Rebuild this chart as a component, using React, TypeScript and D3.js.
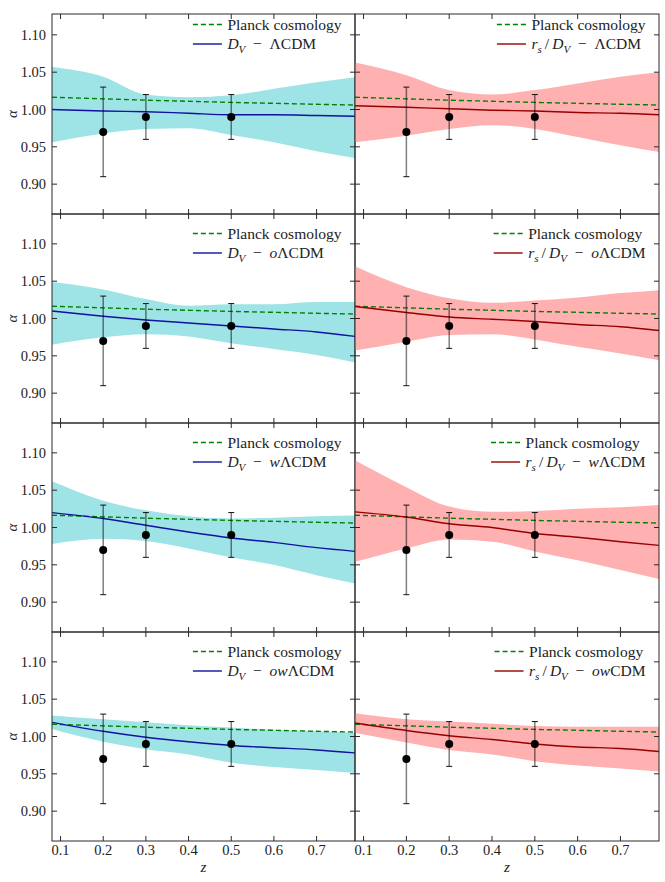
import React, { useEffect, useRef } from 'react';
import * as d3 from 'd3';

// ---------- data ----------
const zGrid = [0.08, 0.2, 0.3, 0.4, 0.5, 0.6, 0.7, 0.79];
const planck = [1.0165, 1.0143, 1.0125, 1.011, 1.0095, 1.0083, 1.007, 1.006];

const dataZ = [0.2, 0.3, 0.5];
const dataAlpha = [0.97, 0.99, 0.99];
const dataErr = [0.06, 0.03, 0.03];

const xTicks = [0.1, 0.2, 0.3, 0.4, 0.5, 0.6, 0.7];
const yTicks = [0.9, 0.95, 1.0, 1.05, 1.1];

// row 1
const dvLcdmMid = [1.0, 0.998, 0.997, 0.995, 0.993, 0.993, 0.992, 0.991];
const dvLcdmHi = [1.057, 1.044, 1.02, 1.0165, 1.019, 1.0277, 1.0366, 1.0433];
const dvLcdmLo = [0.956, 0.968, 0.974, 0.975, 0.966, 0.956, 0.944, 0.935];
const rsLcdmMid = [1.005, 1.003, 1.001, 0.999, 0.998, 0.996, 0.995, 0.993];
const rsLcdmHi = [1.063, 1.046, 1.026, 1.02, 1.026, 1.035, 1.044, 1.05];
const rsLcdmLo = [0.956, 0.965, 0.974, 0.979, 0.974, 0.963, 0.952, 0.943];
// row 2
const dvOLcdmMid = [1.01, 1.003, 0.998, 0.994, 0.99, 0.986, 0.982, 0.976];
const dvOLcdmHi = [1.049, 1.039, 1.026, 1.017, 1.019, 1.019, 1.022, 1.022];
const dvOLcdmLo = [0.965, 0.975, 0.979, 0.976, 0.967, 0.959, 0.951, 0.941];
const rsOLcdmMid = [1.016, 1.008, 1.002, 0.999, 0.996, 0.992, 0.989, 0.984];
const rsOLcdmHi = [1.07, 1.042, 1.027, 1.021, 1.024, 1.028, 1.034, 1.038];
const rsOLcdmLo = [0.957, 0.969, 0.978, 0.979, 0.972, 0.962, 0.953, 0.944];
// row 3
const dvWLcdmMid = [1.02, 1.012, 1.003, 0.994, 0.986, 0.98, 0.973, 0.968];
const dvWLcdmHi = [1.062, 1.036, 1.023, 1.015, 1.012, 1.013, 1.015, 1.016];
const dvWLcdmLo = [0.978, 0.985, 0.982, 0.972, 0.96, 0.95, 0.936, 0.925];
const rsWLcdmMid = [1.021, 1.014, 1.005, 1.0, 0.992, 0.987, 0.981, 0.976];
const rsWLcdmHi = [1.09, 1.054, 1.028, 1.021, 1.022, 1.025, 1.027, 1.03];
const rsWLcdmLo = [0.954, 0.972, 0.984, 0.981, 0.968, 0.956, 0.943, 0.931];
// row 4
const dvOwLcdmMid = [1.019, 1.007, 0.999, 0.993, 0.988, 0.985, 0.982, 0.978];
const dvOwLcdmHi = [1.028, 1.023, 1.019, 1.015, 1.012, 1.009, 1.007, 1.005];
const dvOwLcdmLo = [1.01, 0.993, 0.983, 0.976, 0.965, 0.959, 0.955, 0.951];
const rsOwCdmMid = [1.018, 1.008, 1.001, 0.996, 0.99, 0.986, 0.984, 0.98];
const rsOwCdmHi = [1.031, 1.023, 1.02, 1.017, 1.014, 1.013, 1.013, 1.013];
const rsOwCdmLo = [1.005, 0.992, 0.982, 0.976, 0.967, 0.961, 0.957, 0.953];

const planckLabel = 'Planck cosmology';

type Part = { t: string; i?: boolean; sub?: boolean };
const SP = '\u2002';
const dvPrefix: Part[] = [{ t: 'D', i: true }, { t: 'V', i: true, sub: true }, { t: SP + '\u2212' + SP }];
const rsPrefix: Part[] = [
  { t: 'r', i: true }, { t: 's', i: true, sub: true }, { t: '\u2009/\u2009' },
  { t: 'D', i: true }, { t: 'V', i: true, sub: true }, { t: SP + '\u2212' + SP },
];

const panels = [
  { row: 0, col: 0, label: [...dvPrefix, { t: 'ΛCDM' }], mid: dvLcdmMid, hi: dvLcdmHi, lo: dvLcdmLo },
  { row: 0, col: 1, label: [...rsPrefix, { t: 'ΛCDM' }], mid: rsLcdmMid, hi: rsLcdmHi, lo: rsLcdmLo },
  { row: 1, col: 0, label: [...dvPrefix, { t: 'o', i: true }, { t: 'ΛCDM' }], mid: dvOLcdmMid, hi: dvOLcdmHi, lo: dvOLcdmLo },
  { row: 1, col: 1, label: [...rsPrefix, { t: 'o', i: true }, { t: 'ΛCDM' }], mid: rsOLcdmMid, hi: rsOLcdmHi, lo: rsOLcdmLo },
  { row: 2, col: 0, label: [...dvPrefix, { t: 'w', i: true }, { t: 'ΛCDM' }], mid: dvWLcdmMid, hi: dvWLcdmHi, lo: dvWLcdmLo },
  { row: 2, col: 1, label: [...rsPrefix, { t: 'w', i: true }, { t: 'ΛCDM' }], mid: rsWLcdmMid, hi: rsWLcdmHi, lo: rsWLcdmLo },
  { row: 3, col: 0, label: [...dvPrefix, { t: 'ow', i: true }, { t: 'ΛCDM' }], mid: dvOwLcdmMid, hi: dvOwLcdmHi, lo: dvOwLcdmLo },
  { row: 3, col: 1, label: [...rsPrefix, { t: 'ow', i: true }, { t: 'CDM' }], mid: rsOwCdmMid, hi: rsOwCdmHi, lo: rsOwCdmLo },
];

// ---------- layout ----------
const W = 665;
const H = 882;
const colX = [52, 355, 659];
const rowTop = [5, 214, 423, 632];
const rowH = 209;
const firstFrameTop = 14;
const FONT = "'Liberation Serif', 'DejaVu Serif', serif";

const colors = {
  bandL: '#9ee3e5',
  bandR: '#ffb0b0',
  lineL: '#1212a0',
  lineR: '#960000',
  planck: '#008000',
  frame: '#2a2a2a',
};

export default function App() {
  const ref = useRef<SVGSVGElement | null>(null);

  useEffect(() => {
    const svg = d3.select(ref.current);
    svg.selectAll('*').remove();
    svg.append('rect').attr('width', W).attr('height', H).attr('fill', '#fff');
    const defs = svg.append('defs');
    const txt = (sel: any, size: number) =>
      sel.style('font-family', FONT).style('font-size', `${size}px`).attr('fill', '#222');

    panels.forEach((p, idx) => {
      const x0 = colX[p.col];
      const x1 = colX[p.col + 1];
      const top = rowTop[p.row];
      const bottom = top + rowH;
      const frameTop = p.row === 0 ? firstFrameTop : top;
      const x = d3.scaleLinear().domain([0.08, 0.79]).range([x0, x1]);
      const y = d3.scaleLinear().domain([0.86, 1.14]).range([bottom, top]);
      const isLeft = p.col === 0;

      const clipId = `clip${idx}`;
      defs.append('clipPath').attr('id', clipId)
        .append('rect').attr('x', x0).attr('y', frameTop).attr('width', x1 - x0).attr('height', bottom - frameTop);

      const g = svg.append('g');
      const plot = g.append('g').attr('clip-path', `url(#${clipId})`);

      const idxs = zGrid.map((_, i) => i);
      const area = d3.area<number>()
        .x(i => x(zGrid[i]))
        .y0(i => y(p.lo[i]))
        .y1(i => y(p.hi[i]))
        .curve(d3.curveMonotoneX);
      plot.append('path').attr('d', area(idxs) as string)
        .attr('fill', isLeft ? colors.bandL : colors.bandR);

      const line = (vals: number[]) => d3.line<number>()
        .x(i => x(zGrid[i])).y(i => y(vals[i])).curve(d3.curveMonotoneX)(idxs) as string;

      plot.append('path').attr('d', line(planck)).attr('fill', 'none')
        .attr('stroke', colors.planck).attr('stroke-width', 1.4).attr('stroke-dasharray', '5,3');
      plot.append('path').attr('d', line(p.mid)).attr('fill', 'none')
        .attr('stroke', isLeft ? colors.lineL : colors.lineR).attr('stroke-width', 1.4);

      // error bars
      dataZ.forEach((z, i) => {
        const cx = x(z);
        const yl = y(dataAlpha[i] - dataErr[i]);
        const yh = y(dataAlpha[i] + dataErr[i]);
        plot.append('line').attr('x1', cx).attr('x2', cx).attr('y1', yl).attr('y2', yh)
          .attr('stroke', '#000').attr('stroke-opacity', 0.5).attr('stroke-width', 1.5);
        [yl, yh].forEach(yy => {
          plot.append('line').attr('x1', cx - 3).attr('x2', cx + 3).attr('y1', yy).attr('y2', yy)
            .attr('stroke', '#111').attr('stroke-width', 1);
        });
        plot.append('circle').attr('cx', cx).attr('cy', y(dataAlpha[i])).attr('r', 4).attr('fill', '#000');
      });

      // frame
      g.append('rect').attr('x', x0).attr('y', frameTop).attr('width', x1 - x0).attr('height', bottom - frameTop)
        .attr('fill', 'none').attr('stroke', colors.frame).attr('stroke-width', 1);

      // ticks
      const tl = 5;
      xTicks.forEach(t => {
        const xx = x(t);
        g.append('line').attr('x1', xx).attr('x2', xx).attr('y1', bottom).attr('y2', bottom - tl).attr('stroke', colors.frame);
        g.append('line').attr('x1', xx).attr('x2', xx).attr('y1', frameTop).attr('y2', frameTop + tl).attr('stroke', colors.frame);
      });
      yTicks.forEach(t => {
        const yy = y(t);
        if (yy < frameTop) return;
        g.append('line').attr('x1', x0).attr('x2', x0 + tl).attr('y1', yy).attr('y2', yy).attr('stroke', colors.frame);
        g.append('line').attr('x1', x1).attr('x2', x1 - tl).attr('y1', yy).attr('y2', yy).attr('stroke', colors.frame);
        if (isLeft) {
          txt(g.append('text').attr('x', x0 - 6).attr('y', yy + 5).attr('text-anchor', 'end'), 14.5)
            .text(d3.format('.2f')(t));
        }
      });
      if (isLeft) {
        const cy = (frameTop + bottom) / 2;
        txt(g.append('text').attr('transform', `translate(17,${cy}) rotate(-90)`).attr('text-anchor', 'middle'), 15)
          .style('font-style', 'italic').text('α');
      }
      if (p.row === 3) {
        xTicks.forEach(t => {
          txt(g.append('text').attr('x', x(t)).attr('y', bottom + 14).attr('text-anchor', 'middle'), 14.5)
            .text(d3.format('.1f')(t));
        });
        txt(g.append('text').attr('x', (x0 + x1) / 2).attr('y', bottom + 31).attr('text-anchor', 'middle'), 15)
          .style('font-style', 'italic').text('z');
      }

      // legend
      const lg = g.append('g');
      const e1y = top + 19.5;
      const e2y = top + 39;
      const t1 = txt(lg.append('text').attr('y', e1y + 5), 15.5).text(planckLabel);
      const t2 = txt(lg.append('text').attr('y', e2y + 5), 15.5);
      let shifted = false;
      p.label.forEach(part => {
        const ts = t2.append('tspan').text(part.t);
        if (part.i) ts.style('font-style', 'italic');
        if (part.sub) {
          ts.style('font-size', '11px').attr('dy', 4);
          shifted = true;
        } else if (shifted) {
          ts.attr('dy', -4);
          shifted = false;
        }
      });
      const w1 = (t1.node() as SVGTextElement).getComputedTextLength();
      const w2 = (t2.node() as SVGTextElement).getComputedTextLength();
      const tx = x1 - 13.5 - Math.max(w1, w2);
      t1.attr('x', tx);
      t2.attr('x', tx);
      lg.append('line').attr('x1', tx - 34.5).attr('x2', tx - 5.5).attr('y1', e1y).attr('y2', e1y)
        .attr('stroke', colors.planck).attr('stroke-width', 1.4).attr('stroke-dasharray', '5,3');
      lg.append('line').attr('x1', tx - 34.5).attr('x2', tx - 5.5).attr('y1', e2y).attr('y2', e2y)
        .attr('stroke', isLeft ? colors.lineL : colors.lineR).attr('stroke-width', 1.4);
    });
  }, []);

  return (
    <div style={{ position: 'absolute', left: 0, top: 0 }}>
      <svg ref={ref} width={W} height={H} style={{ display: 'block' }} />
    </div>
  );
}
